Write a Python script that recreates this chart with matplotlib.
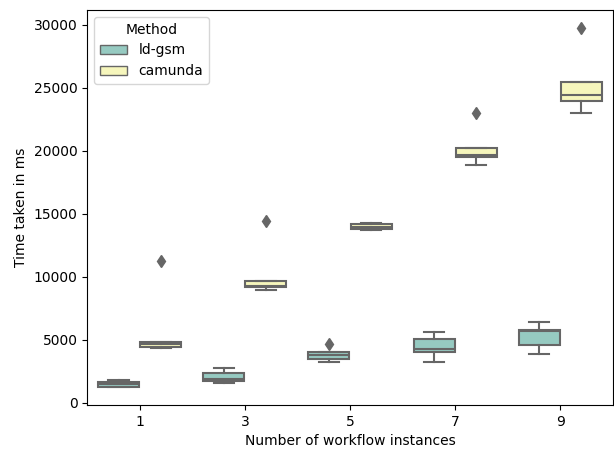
import matplotlib
matplotlib.use("Agg")
import matplotlib.pyplot as plt
from matplotlib.patches import Patch
import seaborn as sns

instances = ["1", "3", "5", "7", "9"]
methods = ["ld-gsm", "camunda"]

# box stats (ms)
ld_low = [1240, 1560, 3220, 3220, 3880]
ld_q1 = [1260, 1720, 3480, 4010, 4540]
ld_med = [1450, 1850, 3750, 4280, 5650]
ld_q3 = [1620, 2350, 4010, 5070, 5780]
ld_high = [1820, 2770, 4010, 5600, 6440]
ld_fliers = [[], [], [4670], [], []]

ca_low = [4300, 8950, 13720, 18870, 22985]
ca_q1 = [4450, 9160, 13780, 19530, 23935]
ca_med = [4650, 9250, 13950, 19650, 24410]
ca_q3 = [4850, 9680, 14200, 20190, 25440]
ca_high = [4850, 9680, 14250, 20190, 25440]
ca_fliers = [[11220], [14430], [], [23010], [29745]]

pal = sns.color_palette("Set3", 2)
colors = [sns.desaturate(c, 0.75) for c in pal]
gray = "#666666"


def stats(low, q1, med, q3, high, fl):
    return [dict(whislo=a, q1=b, med=c, q3=d, whishi=e, fliers=f)
            for a, b, c, d, e, f in zip(low, q1, med, q3, high, fl)]


fig = plt.figure(figsize=(6.14, 4.55), dpi=100)
ax = fig.add_axes([0.142, 0.11, 0.856, 0.868])

groups = [stats(ld_low, ld_q1, ld_med, ld_q3, ld_high, ld_fliers),
          stats(ca_low, ca_q1, ca_med, ca_q3, ca_high, ca_fliers)]
for k, st in enumerate(groups):
    pos = [i - 0.2 + 0.4 * k for i in range(len(instances))]
    ax.bxp(st, positions=pos, widths=0.39, patch_artist=True,
           boxprops=dict(facecolor=colors[k], edgecolor=gray, linewidth=1.5),
           medianprops=dict(color=gray, linewidth=1.5),
           whiskerprops=dict(color=gray, linewidth=1.5),
           capprops=dict(color=gray, linewidth=1.5),
           flierprops=dict(marker="d", markerfacecolor=gray, markeredgecolor=gray,
                           markersize=6))

ax.set_xticks(range(len(instances)))
ax.set_xticklabels(instances)
ax.set_xlim(-0.5, len(instances) - 0.5)
ax.set_xlabel("Number of workflow instances")
ax.set_ylabel("Time taken in ms")

handles = [Patch(facecolor=colors[i], edgecolor=gray, label=m) for i, m in enumerate(methods)]
ax.legend(handles=handles, title="Method", loc="upper left")

fig.savefig("out.png", dpi=100)
